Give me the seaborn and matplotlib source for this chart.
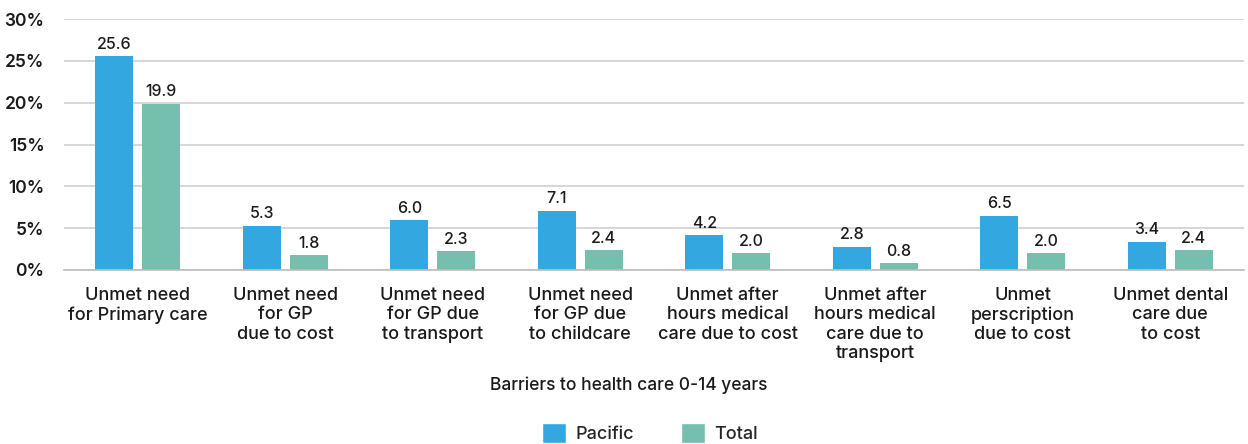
import matplotlib
matplotlib.use("Agg")
import matplotlib.pyplot as plt
import seaborn as sns
import pandas as pd
import numpy as np
from matplotlib.ticker import FixedLocator, FuncFormatter
from matplotlib.patches import Patch

categories = [
    "Unmet need\nfor Primary care",
    "Unmet need\nfor GP\ndue to cost",
    "Unmet need\nfor GP due\nto transport",
    "Unmet need\nfor GP due\nto childcare",
    "Unmet after\nhours medical\ncare due to cost",
    "Unmet after\nhours medical\ncare due to\ntransport",
    "Unmet\nperscription\ndue to cost",
    "Unmet dental\ncare due\nto cost",
]
pacific = [25.6, 5.3, 6.0, 7.1, 4.2, 2.8, 6.5, 3.4]
total = [19.9, 1.8, 2.3, 2.4, 2.0, 0.8, 2.0, 2.4]
series = ["Pacific", "Total"]
colors = ["#33A8E0", "#74BFAD"]
y_ticks = [0, 5, 10, 15, 20, 25, 30]
x_title = "Barriers to health care 0-14 years"

df = pd.DataFrame({
    "category": categories * 2,
    "series": [series[0]] * len(categories) + [series[1]] * len(categories),
    "value": pacific + total,
})

sns.set_theme(style="white")
plt.rcParams["font.family"] = ["Inter", "DejaVu Sans"]
text_color = "#1a1a1a"

fig = plt.figure(figsize=(12.48, 4.44), dpi=100)
ax = fig.add_axes([64 / 1248, 1 - 270 / 444, (1244 - 64) / 1248, (270 - 19) / 444])

sns.barplot(data=df, x="category", y="value", hue="series", palette=colors,
            order=categories, hue_order=series, width=0.635, gap=0.19,
            ax=ax, legend=False, saturation=1, linewidth=0, edgecolor="none")

for cont in ax.containers:
    ax.bar_label(cont, fmt="%.1f", padding=3, fontsize=11.5, color=text_color, fontweight=500)

ax.set_ylim(0, 30)
ax.set_xlim(-0.5, len(categories) - 0.5)
ax.yaxis.set_major_locator(FixedLocator(y_ticks))
ax.yaxis.set_major_formatter(FuncFormatter(lambda v, p: f"{v:.0f}%"))
ax.grid(axis="y", color="#cfcfcf", linewidth=1.2)
ax.set_axisbelow(True)
for s in ["top", "right", "left"]:
    ax.spines[s].set_visible(False)
ax.spines["bottom"].set_color("#bdbdbd")
ax.spines["bottom"].set_linewidth(1.2)

ax.tick_params(axis="y", length=0, pad=14, labelsize=12.5, labelcolor=text_color)
ax.tick_params(axis="x", length=0, pad=12, labelsize=13, labelcolor=text_color)
for lbl in ax.get_yticklabels():
    lbl.set_fontweight(600)
for lbl in ax.get_xticklabels():
    lbl.set_fontweight(500)
    lbl.set_linespacing(1.2)
    lbl.set_verticalalignment("top")

ax.set_xticks(np.arange(0.5, len(categories) - 0.5, 1), minor=True)
ax.tick_params(axis="x", which="minor", direction="in", length=6, color="#bdbdbd", width=1.2)

ax.set_xlabel("")
ax.set_ylabel("")
fig.text(629 / 1248, 1 - 385 / 444, x_title, ha="center", va="center",
         fontsize=12.5, color=text_color, fontweight=500)

handles = [Patch(facecolor=c, label=s) for c, s in zip(colors, series)]
leg = fig.legend(handles=handles, loc="center", bbox_to_anchor=(650 / 1248, 1 - 433 / 444), ncol=2,
                 frameon=False, fontsize=13, handlelength=1.35, handleheight=1.35,
                 columnspacing=2.6, handletextpad=0.5, borderpad=0)
for t in leg.get_texts():
    t.set_fontweight(500)

fig.savefig("out.png", dpi=100)
